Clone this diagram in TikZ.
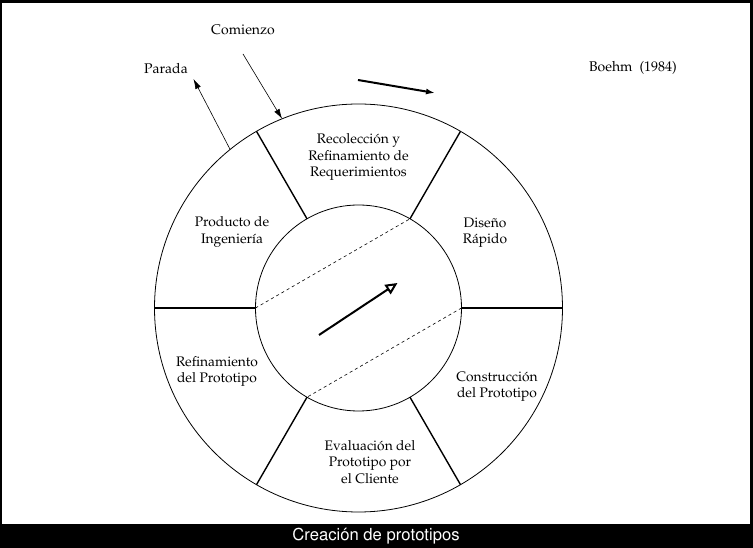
\documentclass[tikz,border=0pt]{standalone}
\usepackage[T1]{fontenc}
\usepackage{mathpazo}
\usepackage[scaled=0.95]{helvet}
\usetikzlibrary{arrows.meta}

\tikzset{
  ring/.style={draw, circle, inner sep=0pt, outer sep=0pt, line width=0.8pt},
  spoke/.style={line width=1.4pt},
  sector/.style={align=center, font=\fontsize{13.8}{16.5}\selectfont},
  tag/.style={font=\fontsize{14}{16}\selectfont},
}

\begin{document}
\begin{tikzpicture}[x=1pt, y=1pt]
  % Frame
  \fill[black] (-358.5,-240) rectangle (394.5,308);
  \fill[white] (-356.5,-216) rectangle (391.5,305);
  \useasboundingbox (-358.5,-240) rectangle (394.5,308);

  % Circles
  \node[ring, minimum size=408pt] (outer) at (0,0) {};
  \node[ring, minimum size=206pt] (inner) at (0,0) {};

  % Spokes
  \foreach \a in {0,60,120,180,240,300}
    \draw[spoke] (outer.\a) -- (inner.\a);

  % Chords
  \draw[dashed, dash pattern=on 3pt off 3pt, line width=0.6pt] (inner.180) -- (inner.60);
  \draw[dashed, dash pattern=on 3pt off 3pt, line width=0.6pt] (inner.0) -- (inner.-120);

  % Sector labels
  \node[sector] (recol) at (0,151) {Recolección y\\Refinamiento de\\Requerimientos};
  \node[sector] (diseno) at (126.5,75.5) {Diseño\\Rápido};
  \node[sector] (constr) at (138.5,-78.5) {Construcción\\del Prototipo};
  \node[sector] (evalua) at (11.5,-154) {Evaluación del\\Prototipo por\\el Cliente};
  \node[sector] (refina) at (-141.5,-63.5) {Refinamiento\\del Prototipo};
  \node[sector] (producto) at (-126.5,76) {Producto de\\Ingeniería};

  % Outside labels
  \node[tag] (comienzo) at (-115.5,278) {Comienzo};
  \node[tag] (parada) at (-192.5,240) {Parada};
  \node[tag] (boehm) at (274.5,240) {Boehm\ \ (1984)};

  % Arrows
  \coordinate (start-in) at (-115.5,254);
  \draw[-{Latex[length=10pt, width=6pt]}, line width=0.6pt] (start-in) -- (outer.112);
  \coordinate (stop-out) at (-165,229);
  \draw[-{Latex[length=10pt, width=6pt]}, line width=0.6pt] (outer.129) -- (stop-out);

  \coordinate (turn-a) at (-0.5,228);
  \coordinate (turn-b) at (76.5,215);
  \draw[-{Latex[length=9pt, width=6pt]}, line width=2pt] (turn-a) -- (turn-b);

  \coordinate (grow-a) at (-39.5,-27);
  \coordinate (grow-b) at (39,25);
  \draw[-{Triangle[open, length=12pt, width=11pt]}, line width=2pt] (grow-a) -- (grow-b);

  % Caption
  \node[white, font=\sffamily\fontsize{17.5}{18}\selectfont] (caption) at (17.5,-228.5) {Creación de prototipos};
\end{tikzpicture}
\end{document}
